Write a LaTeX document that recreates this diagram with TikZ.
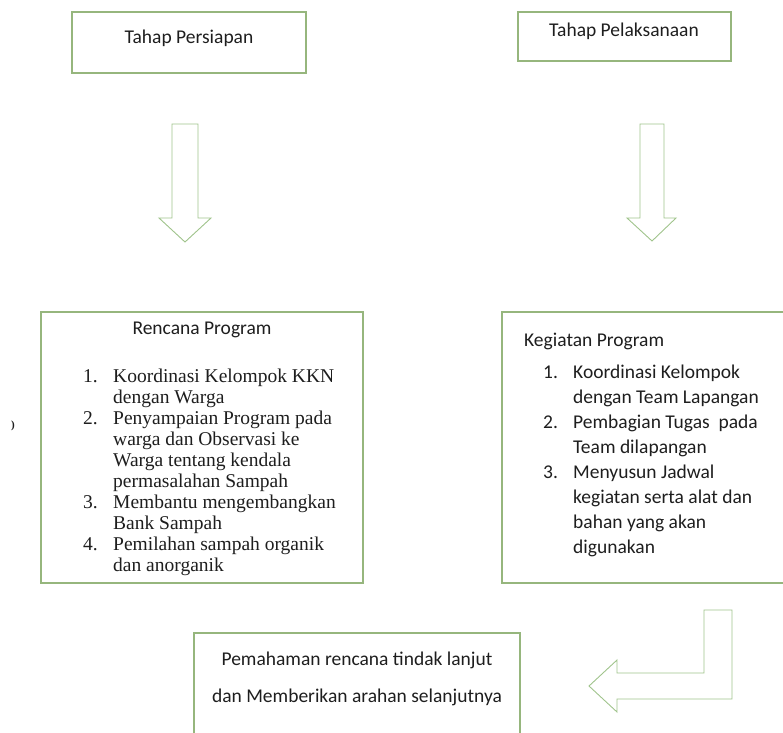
\documentclass[tikz,border=0pt]{standalone}
\usepackage{fontspec}
\setmainfont{Carlito}
\newfontfamily\timesf{Liberation Serif}
\definecolor{boxgreen}{RGB}{150,182,125}
\definecolor{arrgreen}{RGB}{160,196,140}
\definecolor{txt}{RGB}{30,30,30}
\begin{document}
\begin{tikzpicture}[x=1pt,y=-1pt,
  frame/.style={draw=boxgreen, line width=1.6pt, anchor=north west, inner sep=0pt, outer sep=0pt},
  blk/.style={draw=arrgreen, line width=0.9pt, fill=white, line join=miter},
  ttl/.style={font=\fontsize{19.5}{23}\selectfont, text=txt, inner sep=0pt},
  rl/.style={font=\timesf\fontsize{19.5}{23}\selectfont, text=txt, inner sep=0pt, anchor=base west},
  kl/.style={font=\fontsize{19.5}{23}\selectfont, text=txt, inner sep=0pt, anchor=base west}]
\useasboundingbox[fill=white] (0,0) rectangle (783,732);

% boxes
\node[frame, minimum width=234pt, minimum height=61pt] (persiapan) at (72,12) {};
\node[frame, minimum width=213pt, minimum height=49pt] (pelaksanaan) at (518,12) {};
\node[frame, minimum width=322pt, minimum height=271pt] (rencana) at (41,312) {};
\node[frame, minimum width=290pt, minimum height=271pt] (kegiatan) at (502,312) {};
\node[frame, minimum width=326pt, minimum height=110pt] (pemahaman) at (194,633) {};

% titles
\node[ttl] (t1) at (189,38) {Tahap Persiapan};
\node[ttl] (t2) at (624,31) {Tahap Pelaksanaan};
\node[ttl] (t3) at (202,330) {Rencana Program};
\node[ttl, anchor=west] (t4) at (524,341) {Kegiatan Program};
\node[ttl] (t5) at (357,660) {Pemahaman rencana tindak lanjut};
\node[ttl] (t6) at (357,697) {dan Memberikan arahan selanjutnya};

% Rencana list
\node[rl] (rn1) at (83,382) {1.};
\node[rl] (r1) at (113,382) {Koordinasi Kelompok KKN};
\node[rl] (r2) at (113,403.1) {dengan Warga};
\node[rl] (rn2) at (83,424.2) {2.};
\node[rl] (r3) at (113,424.2) {Penyampaian Program pada};
\node[rl] (r4) at (113,445.3) {warga dan Observasi ke};
\node[rl] (r5) at (113,466.4) {Warga tentang kendala};
\node[rl] (r6) at (113,487.5) {permasalahan Sampah};
\node[rl] (rn3) at (83,508.6) {3.};
\node[rl] (r7) at (113,508.6) {Membantu mengembangkan};
\node[rl] (r8) at (113,529.7) {Bank Sampah};
\node[rl] (rn4) at (83,550.8) {4.};
\node[rl] (r9) at (113,550.8) {Pemilahan sampah organik};
\node[rl] (r10) at (113,571.9) {dan anorganik};

% Kegiatan list
\node[kl] (kn1) at (543,378) {1.};
\node[kl] (k1) at (573,378) {Koordinasi Kelompok};
\node[kl] (k2) at (573,403) {dengan Team Lapangan};
\node[kl] (kn2) at (543,428) {2.};
\node[kl] (k3) at (573,428) {Pembagian Tugas\ \ pada};
\node[kl] (k4) at (573,453) {Team dilapangan};
\node[kl] (kn3) at (543,478) {3.};
\node[kl] (k5) at (573,478) {Menyusun Jadwal};
\node[kl] (k6) at (573,503) {kegiatan serta alat dan};
\node[kl] (k7) at (573,528) {bahan yang akan};
\node[kl] (k8) at (573,553) {digunakan};

% stray mark
\node[font=\timesf\bfseries\fontsize{11}{11}\selectfont, text=txt, inner sep=0pt] (mark) at (13,426) {)};

% block arrows
\draw[blk] (172,124) -- (198,124) -- (198,218) -- (211,218) -- (185,242) -- (159,218) -- (172,218) -- cycle;
\draw[blk] (640,124) -- (664,124) -- (664,218) -- (676,218) -- (652,241) -- (627,218) -- (640,218) -- cycle;
\draw[blk] (704,610) -- (732,610) -- (732,699) -- (617,699) -- (617,712) -- (589,686) -- (617,660) -- (617,673) -- (704,673) -- cycle;
\end{tikzpicture}
\end{document}
